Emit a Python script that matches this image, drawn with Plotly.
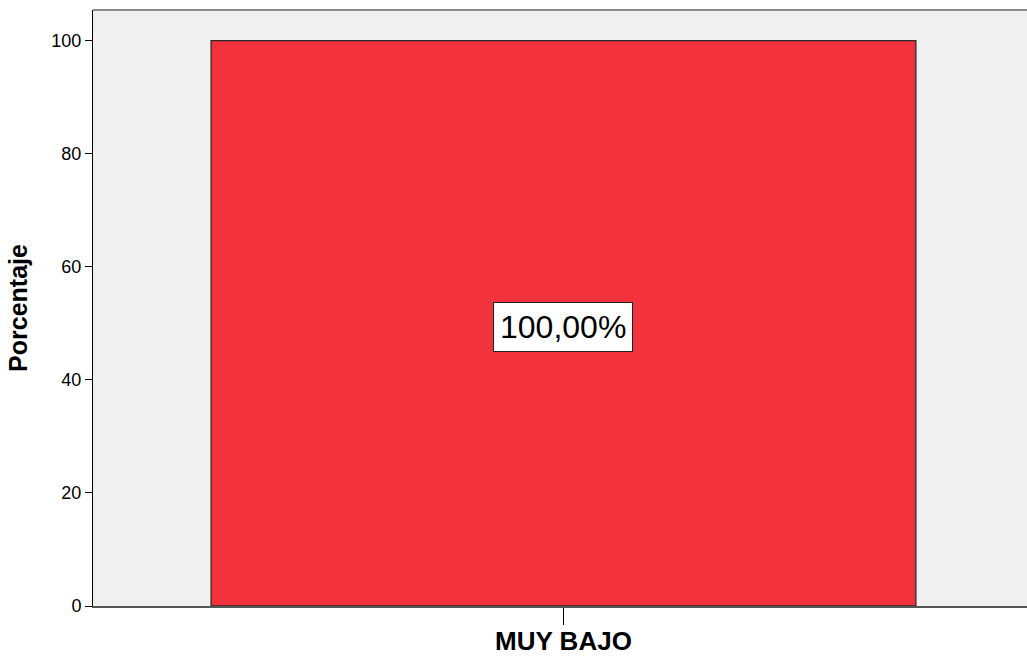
import plotly.graph_objects as go

categories = ['MUY BAJO']
porcentaje = [100.0]
etiquetas = ['100,00%']
yticks = [0, 20, 40, 60, 80, 100]

FONT = 'Liberation Sans, Arial'

fig = go.Figure()
fig.add_trace(go.Bar(
    x=[0], y=porcentaje, width=0.749,
    marker=dict(color='#F2333D', line=dict(color='#2a2a2a', width=1.3)),
    hoverinfo='skip'
))

fig.add_annotation(
    x=0, y=50, text=etiquetas[0], showarrow=False, yshift=-4,
    font=dict(family=FONT, size=32, color='black'),
    bgcolor='white', bordercolor='#222222', borderwidth=1, borderpad=6
)

# top frame line
fig.add_shape(type='line', xref='paper', yref='paper', x0=0, x1=1, y0=1, y1=1,
              line=dict(color='#8a8a8a', width=2))

fig.update_layout(
    width=1027, height=657,
    margin=dict(l=93, r=0, t=10, b=51),
    paper_bgcolor='white', plot_bgcolor='#F0F0F0',
    showlegend=False,
    font=dict(family=FONT, color='black'),
    xaxis=dict(
        range=[-0.5, 0.4926], tickmode='array', tickvals=[0],
        ticktext=['<b>' + c + '</b>' for c in categories],
        ticks='outside', ticklen=17, tickcolor='black', tickwidth=1,
        tickfont=dict(size=26, family=FONT), ticklabelstandoff=-6,
        showline=True, linecolor='#555555', linewidth=2,
        showgrid=False, zeroline=False, automargin=False
    ),
    yaxis=dict(
        range=[0, 105.4], tickvals=yticks,
        ticks='outside', ticklen=7, tickcolor='black', tickwidth=1,
        tickfont=dict(size=18), showline=True, linecolor='black', linewidth=1,
        showgrid=False, zeroline=False, automargin=False,
        title=dict(text='<b>Porcentaje</b>', font=dict(size=25), standoff=16)
    ),
)

# drop the default page margin so the figure sits at the window corner
fig.write_html('out.html', config={'displayModeBar': False},
               post_script="document.body.style.margin='0';")
